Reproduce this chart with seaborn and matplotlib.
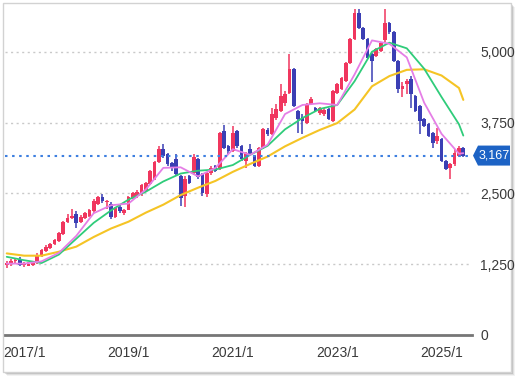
import matplotlib
matplotlib.use('Agg')
import numpy as np
import pandas as pd
import matplotlib.pyplot as plt
import seaborn as sns
from matplotlib.patches import Rectangle, Polygon

# monthly candles, 2016/9 .. 2025/6
opens = [1230, 1270, 1300, 1350, 1230, 1220, 1240, 1270, 1400, 1480,
         1540, 1600, 1660, 1790, 2000, 2060, 2140, 1990, 2060, 2100,
         2180, 2320, 2440, 2340, 2320, 2090, 2260, 2150, 2210, 2420,
         2450, 2480, 2540, 2660, 2750, 3060, 3280, 3190, 3030, 3100,
         2800, 2450, 2800, 2860, 3100, 2840, 2480, 2860, 2980, 2940,
         3600, 3330, 3250, 3600, 3330, 3070, 3280, 3160, 2980, 3300,
         3620, 3550, 3830, 3950, 4100, 4270, 4700, 3950, 3850, 3740,
         4080, 4000, 3920, 3900, 3990, 3780, 4270, 4340, 4490, 4800,
         5230, 5690, 5420, 5230, 4960, 4930, 5020, 5200, 5500, 5340,
         4840, 4340, 4430, 4520, 4220, 4040, 3810, 3720, 3560, 3420,
         3460, 3070, 2940, 3010, 3160, 3300]
highs = [1300, 1340, 1360, 1380, 1290, 1280, 1300, 1450, 1520, 1580,
         1630, 1700, 1820, 2020, 2140, 2230, 2180, 2110, 2170, 2220,
         2400, 2460, 2480, 2390, 2340, 2260, 2300, 2230, 2460, 2520,
         2560, 2670, 2700, 2910, 3080, 3340, 3370, 3210, 3050, 3190,
         2830, 2800, 2830, 3190, 3120, 2860, 2880, 2990, 3000, 3580,
         3700, 3360, 3690, 3620, 3350, 3230, 3370, 3180, 3320, 3650,
         3650, 4000, 4080, 4430, 4300, 4960, 4720, 3980, 3900, 4100,
         4200, 4020, 4030, 4000, 4010, 4330, 4450, 4560, 4820, 5250,
         5760, 5760, 5440, 5250, 4980, 5070, 5180, 5760, 5520, 5360,
         4860, 4460, 4510, 4580, 4240, 4060, 3830, 3740, 3580, 3650,
         3480, 3090, 3030, 3280, 3330, 3320]
lows = [1180, 1220, 1260, 1210, 1200, 1210, 1220, 1250, 1380, 1460,
        1520, 1580, 1640, 1770, 1980, 2040, 1880, 1970, 2040, 2080,
        2160, 2300, 2330, 2220, 2050, 2060, 2150, 2120, 2200, 2400,
        2420, 2460, 2520, 2640, 2730, 3040, 3120, 2980, 2900, 2800,
        2270, 2260, 2660, 2820, 2760, 2460, 2440, 2830, 2870, 2920,
        3280, 3200, 3230, 3300, 3080, 2940, 3170, 2960, 2960, 3280,
        3520, 3530, 3800, 3930, 4050, 4250, 4030, 3560, 3540, 3720,
        4060, 3930, 3890, 3870, 3790, 3760, 4250, 4320, 4470, 4780,
        5210, 5400, 5210, 4870, 4470, 4900, 5000, 5180, 5320, 4820,
        4270, 4200, 4250, 4000, 3930, 3550, 3670, 3490, 3300, 3370,
        3050, 2910, 2750, 2990, 3140, 3150]
closes = [1270, 1310, 1330, 1230, 1260, 1260, 1280, 1420, 1500, 1560,
          1610, 1680, 1800, 2000, 2060, 2100, 1970, 2090, 2150, 2200,
          2360, 2430, 2360, 2370, 2090, 2240, 2180, 2210, 2440, 2500,
          2530, 2650, 2680, 2890, 3060, 3280, 3160, 3010, 2940, 2840,
          2410, 2760, 2690, 3150, 2780, 2500, 2860, 2940, 2890, 3560,
          3300, 3250, 3560, 3330, 3100, 3210, 3190, 2980, 3300, 3630,
          3550, 3900, 3990, 4220, 4260, 4700, 4050, 3810, 3780, 4080,
          4170, 3950, 4010, 3980, 3810, 4310, 4430, 4540, 4800, 5230,
          5690, 5420, 5230, 4890, 4840, 5050, 5160, 5500, 5340, 4840,
          4340, 4400, 4490, 4250, 3950, 3780, 3690, 3510, 3390, 3510,
          3070, 2930, 3010, 3210, 3300, 3167]

# moving averages read every 4 months (plus last month)
ma_months = [0, 4, 8, 12, 16, 20, 24, 28, 32, 36, 40, 44, 48, 52,
             56, 60, 64, 68, 72, 76, 80, 84, 88, 92, 96, 100, 104, 105]
ma_short = [1260, 1260, 1300, 1450, 1750, 2150, 2290, 2320, 2570, 2950,
            2960, 2800, 2950, 3280, 3180, 3360, 3900, 4060, 4090, 4060,
            4600, 5200, 5140, 4900, 4100, 3550, 3200, 3210]
ma_mid = [1380, 1320, 1270, 1420, 1700, 1980, 2200, 2390, 2530, 2710,
          2850, 2900, 2920, 3000, 3180, 3340, 3630, 3830, 3990, 4060,
          4480, 5000, 5160, 5060, 4700, 4200, 3720, 3520]
ma_long = [1440, 1400, 1400, 1470, 1560, 1730, 1880, 2000, 2160, 2300,
           2470, 2600, 2720, 2880, 3020, 3150, 3330, 3480, 3620, 3740,
           3980, 4390, 4570, 4680, 4690, 4580, 4360, 4150]

tick_months = [4, 28, 52, 76, 100]
tick_labels = ['2017/1', '2019/1', '2021/1', '2023/1', '2025/1']
y_ticks = [0, 1250, 2500, 3750, 5000]
last_price = 3167

df = pd.DataFrame({'open': opens, 'high': highs, 'low': lows, 'close': closes})
df['m'] = np.arange(len(df))
up = df['close'] >= df['open']

RED = '#f0365e'
BLUE = '#3b3fb4'

sns.set_theme(style='white')
plt.rcParams['font.family'] = ['Liberation Sans Narrow', 'Liberation Sans', 'DejaVu Sans']

fig = plt.figure(figsize=(5.2, 3.8), dpi=100, facecolor='white')

# outer frame with a soft shadow
for i, a in enumerate([0.05, 0.08, 0.12]):
    off = 4 - i
    fig.patches.append(Rectangle(((3 + off) / 520, 1 - (372 + off) / 380), 508 / 520, 369 / 380,
                                 transform=fig.transFigure, facecolor='black', alpha=a,
                                 edgecolor='none', zorder=0))
fig.patches.append(Rectangle((3 / 520, 1 - 372 / 380), 508 / 520, 369 / 380,
                             transform=fig.transFigure, facecolor='white',
                             edgecolor='#d2d2d2', lw=1, zorder=1))

ax = fig.add_axes([5 / 520, 45 / 380, 467 / 520, 332 / 380])
ax.set_facecolor('none')
ax.set_zorder(2)

ax.set_xlim(-0.4, 107.0)
ax.set_ylim(0, 5860)

for v in y_ticks[1:]:
    ax.axhline(v, color='#c9c9c9', lw=1, ls=(0, (1.5, 2.5)), zorder=1)

# candles
ax.vlines(df['m'], df['low'], df['high'], colors=np.where(up, RED, BLUE), lw=1.1, zorder=3)
ax.bar(df['m'], (df['close'] - df['open']).abs().clip(lower=30),
       bottom=df[['open', 'close']].min(axis=1), width=0.85,
       color=np.where(up, RED, BLUE), edgecolor='none', linewidth=0, zorder=4)

# moving averages
sns.lineplot(x=ma_months, y=ma_long, ax=ax, color='#f5c425', lw=1.5, zorder=5)
sns.lineplot(x=ma_months, y=ma_mid, ax=ax, color='#2fcc7a', lw=1.3, zorder=5)
sns.lineplot(x=ma_months, y=ma_short, ax=ax, color='#e57ee6', lw=1.3, zorder=6)

# current price line
ax.axhline(last_price, color='#3d7fe0', lw=1.5, ls=(0, (1.2, 2.2)), zorder=7)

for s in ['top', 'left', 'right']:
    ax.spines[s].set_visible(False)
ax.spines['bottom'].set_color('#767676')
ax.spines['bottom'].set_linewidth(2)

ax.set_xticks(tick_months)
ax.set_xticklabels(tick_labels)
ax.yaxis.tick_right()
ax.set_yticks(y_ticks)
ax.set_yticklabels([f'{v:,}' for v in y_ticks])
ax.tick_params(axis='both', length=0, labelsize=10, labelcolor='#3a3a3a')
ax.tick_params(axis='x', pad=8)
ax.tick_params(axis='y', pad=6)
ax.set_xlabel('')
ax.set_ylabel('')
ax.grid(False)

# price tag on the right
fig.canvas.draw()
px, py = ax.transData.transform((ax.get_xlim()[1], last_price))
tag = Polygon([(px + 1, py), (px + 6, py + 10), (px + 38, py + 10),
               (px + 38, py - 10), (px + 6, py - 10)],
              closed=True, transform=None, facecolor='#1d63c5', edgecolor='none', zorder=10)
fig.patches.append(tag)
fig.text((px + 22.5) / 520, py / 380, f'{last_price:,}', color='white', fontsize=9,
         ha='center', va='center', zorder=11)

fig.savefig('out.png', dpi=100, facecolor='white')
